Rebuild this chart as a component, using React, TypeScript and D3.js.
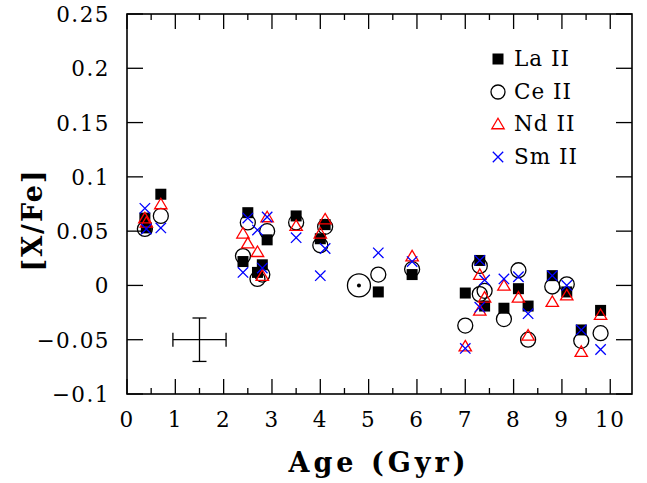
import React from "react";
import * as d3 from "d3";

type P = [number, number];

const laII: P[] = [
  [0.37, 0.062], [0.40, 0.053], [0.70, 0.084], [2.40, 0.022], [2.50, 0.067], [2.70, 0.012],
  [2.80, 0.019], [2.90, 0.042], [3.50, 0.064], [4.00, 0.043], [4.10, 0.056], [5.20, -0.006],
  [5.90, 0.010], [7.00, -0.007], [7.30, 0.023], [7.40, -0.019], [7.80, -0.021], [8.10, -0.003],
  [8.30, -0.019], [8.80, 0.009], [9.10, -0.006], [9.40, -0.041], [9.80, -0.023],
];
const ceII: P[] = [
  [0.37, 0.052], [0.70, 0.064], [2.40, 0.027], [2.50, 0.058], [2.70, 0.006], [2.80, 0.010],
  [2.90, 0.050], [3.50, 0.058], [4.00, 0.037], [4.10, 0.054], [5.20, 0.010], [5.90, 0.015],
  [7.00, -0.037], [7.30, 0.018], [7.30, -0.008], [7.40, -0.005], [7.80, -0.031], [8.10, 0.014],
  [8.30, -0.050], [8.80, -0.001], [9.10, 0.001], [9.40, -0.051], [9.80, -0.044],
];
const ndII: P[] = [
  [0.37, 0.062], [0.40, 0.058], [0.70, 0.075], [2.40, 0.048], [2.50, 0.039], [2.70, 0.031],
  [2.80, 0.009], [2.90, 0.063], [3.50, 0.055], [4.00, 0.048], [4.10, 0.061], [5.90, 0.027],
  [7.00, -0.056], [7.30, 0.010], [7.30, -0.023], [7.40, -0.011], [7.80, 0.000], [8.10, -0.011],
  [8.30, -0.046], [8.80, -0.015], [9.10, -0.009], [9.40, -0.061], [9.80, -0.027],
];
const smII: P[] = [
  [0.37, 0.071], [0.40, 0.052], [0.70, 0.053], [2.40, 0.012], [2.50, 0.062], [2.70, 0.051],
  [2.80, 0.016], [2.90, 0.063], [3.50, 0.044], [4.00, 0.009], [4.10, 0.034], [5.20, 0.030],
  [5.90, 0.022], [7.00, -0.058], [7.30, 0.023], [7.30, -0.020], [7.40, 0.005], [7.80, 0.006],
  [8.10, 0.008], [8.30, -0.026], [8.80, 0.009], [9.10, 0.000], [9.40, -0.041], [9.80, -0.059],
];
const sun: P = [4.8, 0.0];
const errorBar = { age: 1.5, value: -0.05, dAge: 0.55, dValue: 0.02 };

const xTicks = [0, 1, 2, 3, 4, 5, 6, 7, 8, 9, 10];
const xMinor = [0.5, 1.5, 2.5, 3.5, 4.5, 5.5, 6.5, 7.5, 8.5, 9.5];
const yTicks = [0.25, 0.2, 0.15, 0.1, 0.05, 0, -0.05, -0.1];
const yTickLabels = ["0.25", "0.2", "0.15", "0.1", "0.05", "0", "\u22120.05", "\u22120.1"];
const legendNames = ["La II", "Ce II", "Nd II", "Sm II"];

const X0 = 127, X1 = 632, Y0 = 14, Y1 = 394;
const x = d3.scaleLinear().domain([0, 10.45]).range([X0, X1]);
const y = d3.scaleLinear().domain([-0.1, 0.25]).range([Y1, Y0]);

const FONT = "'DejaVu Serif', serif";

function Square({ cx, cy }: { cx: number; cy: number }) {
  const s = 11;
  return <rect x={cx - s / 2} y={cy - s / 2} width={s} height={s} fill="#000" />;
}
function Circ({ cx, cy, r = 7.5 }: { cx: number; cy: number; r?: number }) {
  return <circle cx={cx} cy={cy} r={r} fill="none" stroke="#000" strokeWidth={1.3} />;
}
function Tri({ cx, cy }: { cx: number; cy: number }) {
  const w = 6.2, h = 10.5;
  const d = `M${cx},${cy - h * 0.55}L${cx + w},${cy + h * 0.45}L${cx - w},${cy + h * 0.45}Z`;
  return <path d={d} fill="none" stroke="#ff0000" strokeWidth={1.3} />;
}
function Cross({ cx, cy }: { cx: number; cy: number }) {
  const s = 5.2;
  return (
    <path
      d={`M${cx - s},${cy - s}L${cx + s},${cy + s}M${cx - s},${cy + s}L${cx + s},${cy - s}`}
      stroke="#0000ff"
      strokeWidth={1.3}
    />
  );
}

export default function App() {
  const ebx = x(errorBar.age), eby = y(errorBar.value);
  const ebx0 = x(errorBar.age - errorBar.dAge), ebx1 = x(errorBar.age + errorBar.dAge);
  const eby0 = y(errorBar.value + errorBar.dValue), eby1 = y(errorBar.value - errorBar.dValue);
  const cap = 7;
  const legendX = 498;
  const legendYs = [59, 92, 124, 157];
  return (
    <svg width={647} height={483} style={{ position: "absolute", left: 0, top: 0, background: "#fff" }}>
      <rect x={0} y={0} width={647} height={483} fill="#fff" />
      {/* ticks */}
      <g stroke="#000" strokeWidth={1.3}>
        {xTicks.map((t) => (
          <g key={"xt" + t}>
            <line x1={x(t)} x2={x(t)} y1={Y1} y2={Y1 - 15} />
            <line x1={x(t)} x2={x(t)} y1={Y0} y2={Y0 + 15} />
          </g>
        ))}
        {xMinor.map((t) => (
          <g key={"xm" + t}>
            <line x1={x(t)} x2={x(t)} y1={Y1} y2={Y1 - 6} />
            <line x1={x(t)} x2={x(t)} y1={Y0} y2={Y0 + 6} />
          </g>
        ))}
        {yTicks.map((t) => (
          <g key={"yt" + t}>
            <line x1={X0} x2={X0 + 16} y1={y(t)} y2={y(t)} />
            <line x1={X1} x2={X1 - 16} y1={y(t)} y2={y(t)} />
          </g>
        ))}
      </g>
      <rect x={X0} y={Y0} width={X1 - X0} height={Y1 - Y0} fill="none" stroke="#000" strokeWidth={1.6} />
      {/* tick labels */}
      <g fontFamily={FONT} fontSize={21.5} fill="#000" style={{ letterSpacing: "1.5px" }}>
        {xTicks.map((t) => (
          <text key={"xl" + t} x={x(t)} y={427} textAnchor="middle">
            {String(t)}
          </text>
        ))}
        {yTicks.map((t, i) => (
          <text key={"yl" + t} x={110} y={y(t) + 8} textAnchor="end">
            {yTickLabels[i]}
          </text>
        ))}
      </g>
      {/* axis titles */}
      <text
        x={379}
        y={472}
        textAnchor="middle"
        fontFamily={FONT}
        fontWeight="bold"
        fontSize={27}
        style={{ letterSpacing: "4px" }}
      >
        Age (Gyr)
      </text>
      <text
        transform={`translate(42,220) rotate(-90)`}
        textAnchor="middle"
        fontFamily={FONT}
        fontWeight="bold"
        fontSize={27}
        style={{ letterSpacing: "2px" }}
      >
        [X/Fe]
      </text>
      {/* data */}
      {laII.map((p, i) => (
        <Square key={"la" + i} cx={x(p[0])} cy={y(p[1])} />
      ))}
      {ceII.map((p, i) => (
        <Circ key={"ce" + i} cx={x(p[0])} cy={y(p[1])} />
      ))}
      {ndII.map((p, i) => (
        <Tri key={"nd" + i} cx={x(p[0])} cy={y(p[1])} />
      ))}
      {smII.map((p, i) => (
        <Cross key={"sm" + i} cx={x(p[0])} cy={y(p[1])} />
      ))}
      {/* sun */}
      <circle cx={x(sun[0])} cy={y(sun[1])} r={11.5} fill="none" stroke="#000" strokeWidth={1.3} />
      <circle cx={x(sun[0])} cy={y(sun[1])} r={2} fill="#000" />
      {/* error bar */}
      <g stroke="#000" strokeWidth={1.3}>
        <line x1={ebx0} x2={ebx1} y1={eby} y2={eby} />
        <line x1={ebx} x2={ebx} y1={eby0} y2={eby1} />
        <line x1={ebx0} x2={ebx0} y1={eby - cap} y2={eby + cap} />
        <line x1={ebx1} x2={ebx1} y1={eby - cap} y2={eby + cap} />
        <line x1={ebx - cap} x2={ebx + cap} y1={eby0} y2={eby0} />
        <line x1={ebx - cap} x2={ebx + cap} y1={eby1} y2={eby1} />
      </g>
      {/* legend */}
      <Square cx={legendX} cy={legendYs[0]} />
      <Circ cx={legendX} cy={legendYs[1]} r={7} />
      <Tri cx={legendX} cy={legendYs[2]} />
      <Cross cx={legendX} cy={legendYs[3]} />
      <g fontFamily={FONT} fontSize={21.5} fill="#000" style={{ letterSpacing: "1px" }}>
        {legendNames.map((n, i) => (
          <text key={n} x={514} y={legendYs[i] + 7}>
            {n}
          </text>
        ))}
      </g>
    </svg>
  );
}
